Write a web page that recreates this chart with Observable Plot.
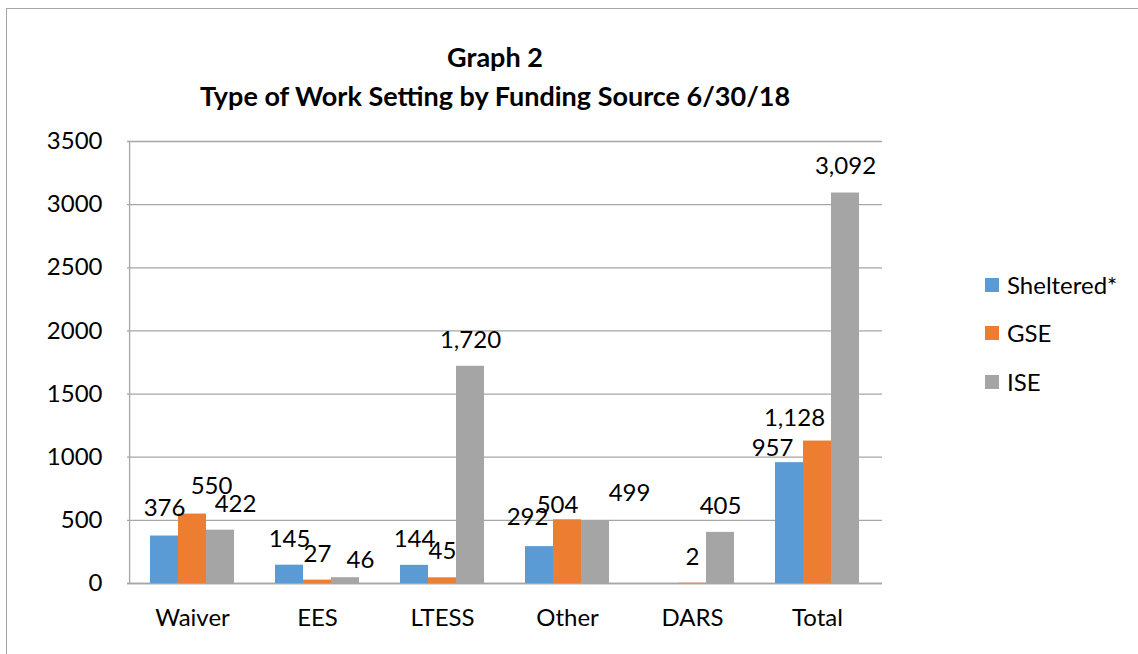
<!DOCTYPE html>
<html>
<head>
<meta charset="utf-8">
<script src="https://cdn.jsdelivr.net/npm/d3@7"></script>
<script src="https://cdn.jsdelivr.net/npm/@observablehq/plot@0.6"></script>
<style>
  html, body { margin: 0; padding: 0; background: #fff; }
  #wrap { position: relative; width: 1138px; height: 654px; overflow: hidden; font-family: Lato, "Open Sans", sans-serif; color: #000; }
  #frame { position: absolute; left: 6px; top: 8px; width: 1200px; height: 700px; border: 1px solid #a6a6a6; box-sizing: border-box; }
  .title { position: absolute; left: 0; width: 990px; text-align: center; font-weight: bold; font-size: 27px; line-height: 32px; white-space: nowrap; }
  #chart { position: absolute; left: 0; top: 0; }
  #legend { position: absolute; left: 985px; top: 0; }
  .item { position: absolute; left: 0; white-space: nowrap; font-size: 24px; line-height: 28px; }
  .sw { position: absolute; left: 0; top: 7px; width: 14px; height: 14px; }
  .lbl { position: absolute; left: 22px; top: 0; }
</style>
</head>
<body>
<div id="wrap">
  <div id="frame"></div>
  <div id="chart"></div>
  <div class="title" id="t1" style="top:41px">Graph 2</div>
  <div class="title" id="t2" style="top:80px">Type of Work Setting by Funding Source 6/30/18</div>
  <div id="legend"></div>
</div>
<script>
const categories = ["Waiver", "EES", "LTESS", "Other", "DARS", "Total"];
const seriesNames = ["Sheltered*", "GSE", "ISE"];
const sheltered = [376, 145, 144, 292, null, 957];
const gse = [550, 27, 45, 504, 2, 1128];
const ise = [422, 46, 1720, 499, 405, 3092];
const seriesColors = ["#5B9BD5", "#ED7D31", "#A5A5A5"];
const yTicks = [0, 500, 1000, 1500, 2000, 2500, 3000, 3500];

// manual label nudges (pixels, relative to each bar's top centre), as placed in the original
const labelDx = [
  [0, 0, 0, -12, 0, -17],
  [19, 0, 0, -10, 0, -23],
  [15, 15, 0, 34, 0, 0]
];
const labelDy = [
  [-28, -26, -26, -29, -26, -14],
  [-28, -26, -27, -15, -26, -23],
  [-26, -17, -26, -27, -26, -27]
];

const seriesValues = [sheltered, gse, ise];
const rows = [];
seriesValues.forEach((arr, j) => {
  categories.forEach((c, i) => {
    rows.push({category: c, series: seriesNames[j], value: arr[i], si: j, ci: i});
  });
});

const barW = 28;
const offsets = [-barW, 0, barW];
const fmt = d3.format(",");
const gridColor = "#a6a6a6";
const FS = 24;

const marks = [
  Plot.gridY(yTicks, {stroke: gridColor, strokeOpacity: 1, strokeWidth: 1.3}),
  Plot.axisY(yTicks, {tickSize: 0, tickPadding: 25, tickFormat: d => String(d), label: null, fontSize: FS, fill: "#000"}),
  Plot.axisX({tickSize: 0, tickPadding: 25, label: null, fontSize: FS, fill: "#000"}),
  Plot.ruleY([0], {stroke: gridColor, strokeWidth: 1.3})
];
seriesNames.forEach((s, j) => {
  const data = rows.filter(r => r.series === s && r.value != null);
  marks.push(Plot.barY(data, {x: "category", y: "value", fill: "series", dx: offsets[j]}));
});
rows.filter(r => r.value != null).forEach(r => {
  marks.push(Plot.text([r], {
    x: "category", y: "value", text: d => fmt(d.value),
    dx: offsets[r.si] + labelDx[r.si][r.ci], dy: labelDy[r.si][r.ci],
    fontSize: FS, fill: "#000", lineAnchor: "middle"
  }));
});
const step = 755 / 6;
const pInner = 1 - barW / step;
// left axis line
marks.push(Plot.ruleX([categories[0]], {y1: 0, y2: 3500, dx: -(step / 2), stroke: gridColor, strokeWidth: 1.3}));

const chart = Plot.plot({
  width: 1138,
  height: 654,
  marginLeft: 127,
  marginRight: 256,
  marginTop: 141,
  marginBottom: 71,
  style: {fontFamily: "Lato, 'Open Sans', sans-serif", fontSize: FS + "px", color: "#000", background: "transparent", overflow: "visible"},
  x: {domain: categories, paddingInner: pInner, paddingOuter: pInner / 2, axis: null},
  y: {domain: [0, 3500], axis: null},
  color: {domain: seriesNames, range: seriesColors},
  marks
});
document.getElementById("chart").appendChild(chart);

// legend
const legend = document.getElementById("legend");
const legendTops = [271, 319, 368];
seriesNames.forEach((s, j) => {
  const it = document.createElement("div");
  it.className = "item";
  it.style.top = legendTops[j] + "px";
  const sw = document.createElement("span");
  sw.className = "sw";
  sw.style.background = seriesColors[j];
  const lb = document.createElement("span");
  lb.className = "lbl";
  lb.textContent = s;
  it.appendChild(sw);
  it.appendChild(lb);
  legend.appendChild(it);
});
</script>
</body>
</html>
